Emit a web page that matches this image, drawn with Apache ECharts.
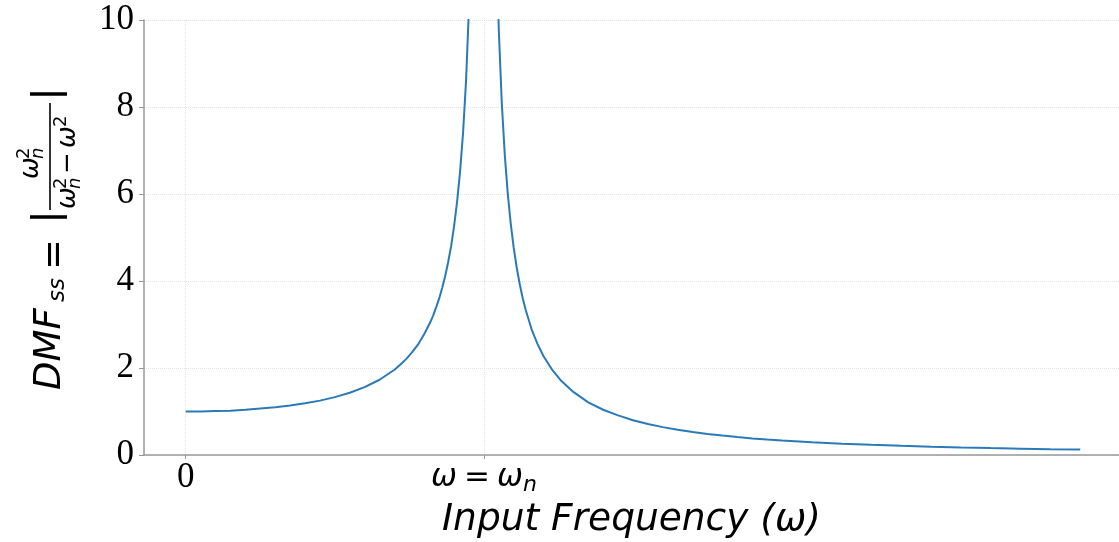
<!DOCTYPE html>
<html>
<head>
<meta charset="utf-8">
<script src="https://cdn.jsdelivr.net/npm/echarts@6/dist/echarts.min.js"></script>
<style>
html,body{margin:0;padding:0;background:#fff;}
#chart{width:1119px;height:542px;}
</style>
</head>
<body>
<div id="chart"></div>
<script>
// Input frequency ratio (ω/ωn) and steady-state DMF
const freqRatio = [0, 0.05, 0.1, 0.15, 0.2, 0.25, 0.3, 0.35, 0.4, 0.45, 0.5, 0.55, 0.6, 0.65, 0.7, 0.72, 0.74, 0.76, 0.78, 0.8, 0.82, 0.83, 0.84, 0.85, 0.86, 0.87, 0.88, 0.89, 0.9, 0.91, 0.92, 0.93, 0.94, 0.95, 0.96, 0.98,
  1.02, 1.04, 1.05, 1.06, 1.07, 1.08, 1.09, 1.1, 1.11, 1.12, 1.13, 1.14, 1.16, 1.18, 1.2, 1.23, 1.26, 1.3, 1.35, 1.4, 1.45, 1.5, 1.55, 1.6, 1.65, 1.7, 1.75, 1.8, 1.85, 1.9, 1.95, 2.0,
  2.1, 2.2, 2.3, 2.4, 2.5, 2.6, 2.7, 2.8, 2.9, 3.0];
const dmfValues = [1.00, 1.00, 1.01, 1.02, 1.04, 1.07, 1.10, 1.14, 1.19, 1.25, 1.33, 1.43, 1.56, 1.73, 1.96, 2.08, 2.21, 2.37, 2.55, 2.78, 3.05, 3.21, 3.40, 3.60, 3.84, 4.11, 4.43, 4.80, 5.26, 5.82, 6.51, 7.40, 8.59, 10.3, 12.8, 25.3,
  24.8, 12.3, 9.76, 8.09, 6.90, 6.01, 5.32, 4.76, 4.31, 3.93, 3.61, 3.34, 2.89, 2.55, 2.27, 1.95, 1.70, 1.45, 1.21, 1.04, 0.91, 0.80, 0.712, 0.641, 0.581, 0.529, 0.485, 0.446, 0.412, 0.382, 0.355, 0.333,
  0.294, 0.260, 0.233, 0.210, 0.190, 0.173, 0.159, 0.146, 0.135, 0.125];
const xTickValues = [0, 1];
const xTickLabels = ['0', 'ω = ω_n'];

const chart = echarts.init(document.getElementById('chart'), null, {renderer: 'canvas'});
const seriesData = freqRatio.map((x, i) => [x, dmfValues[i]]);

function richLabel(v) {
  const i = xTickValues.indexOf(v);
  if (i < 0) return '';
  const s = xTickLabels[i];
  if (s.indexOf('_') >= 0) {
    return '{w|ω}{eq|=}{w|ω}{sub|n}';
  }
  return '{num|' + s + '}';
}

// y-axis label built from math pieces, in a rotated group (local x = up the page)
const SANS = 'DejaVu Sans';
function piece(text, x, baseline, size, italic) {
  return {
    type: 'text', x: x, y: baseline - 0.346 * size,
    style: {text: text, fontSize: size, fontFamily: SANS, fontStyle: italic ? 'italic' : 'normal',
            fill: '#000', align: 'left', verticalAlign: 'middle'}
  };
}
function bar(x, y1, y2, w) {
  return {type: 'line', shape: {x1: x, y1: y1, x2: x, y2: y2}, style: {stroke: '#000', lineWidth: w}};
}
const M = 37, S = 26, SS = 18;
const yLabelChildren = [
  piece('DMF', -3, 0, M, true),
  piece('ss', 85, 3, 23, true),
  piece('=', 117, 5, M, false),
  bar(170, -33, 4, 3.5),
  // numerator
  piece('ω', 208, -23, S, true),
  piece('n', 228, -18, SS, true),
  piece('2', 228, -32, SS, false),
  // fraction bar
  {type: 'line', shape: {x1: 177, y1: -13, x2: 284, y2: -13}, style: {stroke: '#000', lineWidth: 1.6}},
  // denominator
  piece('ω', 178, 14, S, true),
  piece('n', 198, 19, SS, true),
  piece('2', 198, 5, SS, false),
  piece('−', 213, 14, S, false),
  piece('ω', 239, 14, S, true),
  piece('2', 260, 5, SS, false),
  bar(293, -33, 4, 3.5)
];

const option = {
  animation: false,
  backgroundColor: '#fff',
  grid: {left: 144, right: 0, top: 20, bottom: 87, containLabel: false, outerBoundsMode: 'none'},
  xAxis: {
    type: 'value', min: -0.14, max: 3.13,
    name: 'Input Frequency (ω)', nameLocation: 'middle', nameGap: 46,
    nameTextStyle: {fontFamily: SANS, fontStyle: 'italic', fontSize: 37.5, color: '#000'},
    axisLine: {show: true, onZero: false, lineStyle: {color: '#999', width: 1.5}},
    axisTick: {show: true, customValues: xTickValues, length: 4, lineStyle: {color: '#999'}},
    axisLabel: {
      customValues: xTickValues, margin: 5, formatter: richLabel, color: '#000',
      rich: {
        num: {fontFamily: 'Liberation Serif', fontSize: 35, color: '#000'},
        w: {fontFamily: SANS, fontStyle: 'italic', fontSize: 31, color: '#000'},
        eq: {fontFamily: SANS, fontSize: 31, color: '#000', padding: [0, 7, 0, 7]},
        sub: {fontFamily: SANS, fontStyle: 'italic', fontSize: 22, color: '#000', padding: [14, 0, 0, 0]}
      }
    },
    splitLine: {show: true, customValues: xTickValues, lineStyle: {color: '#e3e3e3', type: 'dotted', width: 1}}
  },
  yAxis: {
    type: 'value', min: 0, max: 10, interval: 2,
    axisLine: {show: true, onZero: false, lineStyle: {color: '#999', width: 1.5}},
    axisTick: {show: true, length: 5, lineStyle: {color: '#999'}},
    axisLabel: {fontFamily: 'Liberation Serif', fontSize: 35, color: '#000', margin: 10},
    splitLine: {show: true, lineStyle: {color: '#e3e3e3', type: 'dotted', width: 1}}
  },
  series: [{
    type: 'line', data: seriesData, showSymbol: false, symbol: 'none', clip: true,
    lineStyle: {color: '#2a7ab9', width: 2}, itemStyle: {color: '#2a7ab9'}
  }],
  graphic: [{
    type: 'group', x: 63, y: 387, rotation: Math.PI / 2, children: yLabelChildren
  }]
};
chart.setOption(option);
</script>
</body>
</html>
